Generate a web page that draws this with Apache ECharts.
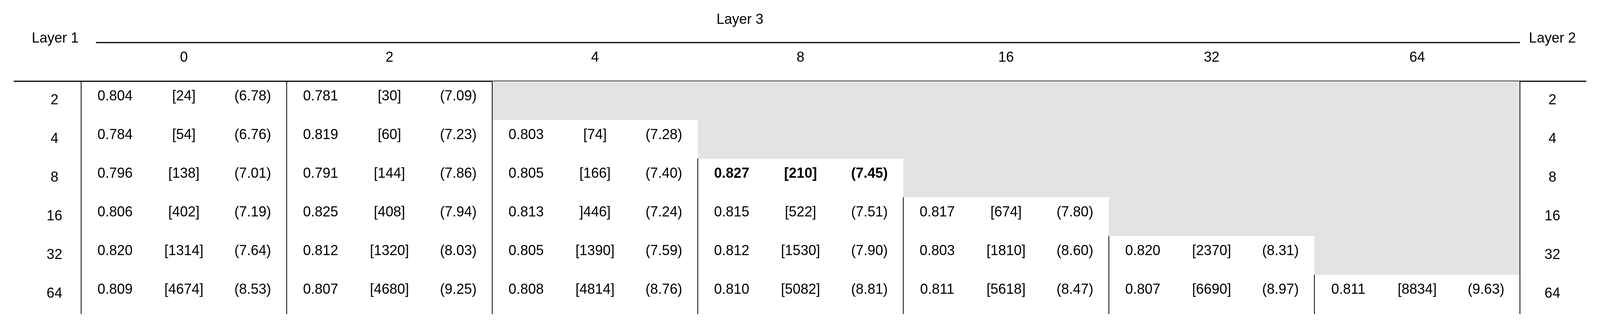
<!DOCTYPE html>
<html><head><meta charset="utf-8">
<script src="https://cdn.jsdelivr.net/npm/echarts@6/dist/echarts.min.js"></script>
<style>html,body{margin:0;padding:0;background:#fff;overflow:hidden}#c{width:100vw;height:100vh}</style>
</head><body><div id="c"></div>
<script>
const layer3 = ['0','2','4','8','16','32','64'];
const layer1 = ['2','4','8','16','32','64'];
const acc = [
  ['0.804','0.781',null,null,null,null,null],
  ['0.784','0.819','0.803',null,null,null,null],
  ['0.796','0.791','0.805','0.827',null,null,null],
  ['0.806','0.825','0.813','0.815','0.817',null,null],
  ['0.820','0.812','0.805','0.812','0.803','0.820',null],
  ['0.809','0.807','0.808','0.810','0.811','0.807','0.811']
];
const params = [
  ['[24]','[30]',null,null,null,null,null],
  ['[54]','[60]','[74]',null,null,null,null],
  ['[138]','[144]','[166]','[210]',null,null,null],
  ['[402]','[408]',']446]','[522]','[674]',null,null],
  ['[1314]','[1320]','[1390]','[1530]','[1810]','[2370]',null],
  ['[4674]','[4680]','[4814]','[5082]','[5618]','[6690]','[8834]']
];
const times = [
  ['(6.78)','(7.09)',null,null,null,null,null],
  ['(6.76)','(7.23)','(7.28)',null,null,null,null],
  ['(7.01)','(7.86)','(7.40)','(7.45)',null,null,null],
  ['(7.19)','(7.94)','(7.24)','(7.51)','(7.80)',null,null],
  ['(7.64)','(8.03)','(7.59)','(7.90)','(8.60)','(8.31)',null],
  ['(8.53)','(9.25)','(8.76)','(8.81)','(8.47)','(8.97)','(9.63)']
];
const best = [2,3];

const cells = [];
layer1.forEach((r,i)=>layer3.forEach((c,j)=>cells.push([j,i])));
const FONT = 'Liberation Sans, Arial, sans-serif';
const el = document.getElementById('c');
const chart = echarts.init(el);
const W = chart.getWidth(), H = chart.getHeight();
const sx = W/4437, sy = H/837;
const fs = Math.round(39*Math.min(sx,sy*1.0));
chart.setOption({
  animation:false,
  grid:{left:225*sx,right:222*sx,top:208*sy,bottom:35*sy},
  xAxis:{type:'category',data:layer3,position:'top',axisLine:{show:false},axisTick:{show:false},
    axisLabel:{margin:60*sy,verticalAlign:'middle',fontSize:fs,color:'#000',fontFamily:FONT}},
  yAxis:[
    {type:'category',data:layer1,inverse:true,axisLine:{show:false},axisTick:{show:false},
      axisLabel:{margin:74*sx,align:'center',fontSize:fs,color:'#000',fontFamily:FONT,padding:[0,0,20*sy,0]}},
    {type:'category',data:layer1,inverse:true,position:'right',axisLine:{show:false},axisTick:{show:false},
      axisLabel:{margin:90*sx,align:'center',fontSize:fs,color:'#000',fontFamily:FONT,padding:[0,0,20*sy,0]}}
  ],
  series:[{
    type:'custom',data:cells,
    renderItem:function(params_,api){
      const j=api.value(0), i=api.value(1);
      const c=api.coord([j,i]); const s=api.size([1,1]);
      const x0=c[0]-s[0]/2, y0=c[1]-s[1]/2;
      const grey = acc[i][j]===null;
      const kids=[];
      if(grey){
        kids.push({type:'rect',shape:{x:x0,y:y0,width:s[0]+(j<6?1:0),height:s[1]},style:{fill:'#e3e3e3'}});
      } else {
        const bold = (i===best[0]&&j===best[1]);
        const st={fill:'#000',fontSize:fs,fontFamily:FONT,fontWeight:bold?'bold':'normal',align:'center',verticalAlign:'middle'};
        [[acc[i][j],-0.335],[params[i][j],0],[times[i][j],0.335]].forEach(([t,o])=>{
          kids.push({type:'text',x:c[0]+o*s[0],y:c[1]-10*sy,style:Object.assign({text:t},st)});
        });
      }
      if(!grey || (i===0&&j===2)){
        kids.push({type:'line',shape:{x1:x0,y1:y0,x2:x0,y2:y0+s[1]+(i===5?2:0)},style:{stroke:'#000',lineWidth:2}});
      }
      if(j===6){
        kids.push({type:'line',shape:{x1:x0+s[0],y1:y0,x2:x0+s[0],y2:y0+s[1]+(i===5?2:0)},style:{stroke:'#000',lineWidth:2}});
      }
      return {type:'group',children:kids};
    }
  }],
  graphic:[
    {type:'line',shape:{x1:266*sx,y1:109*sy,x2:4215*sx,y2:109*sy},style:{stroke:'#000',lineWidth:3}},
    {type:'line',shape:{x1:38*sx,y1:208*sy,x2:4399*sx,y2:208*sy},style:{stroke:'#000',lineWidth:3}},
    {type:'text',x:153*sx,y:99*sy,style:{text:'Layer 1',fontSize:fs,fontFamily:FONT,fill:'#000',align:'center',verticalAlign:'middle'}},
    {type:'text',x:2052*sx,y:51*sy,style:{text:'Layer 3',fontSize:fs,fontFamily:FONT,fill:'#000',align:'center',verticalAlign:'middle'}},
    {type:'text',x:4305*sx,y:99*sy,style:{text:'Layer 2',fontSize:fs,fontFamily:FONT,fill:'#000',align:'center',verticalAlign:'middle'}}
  ]
});
</script></body></html>
